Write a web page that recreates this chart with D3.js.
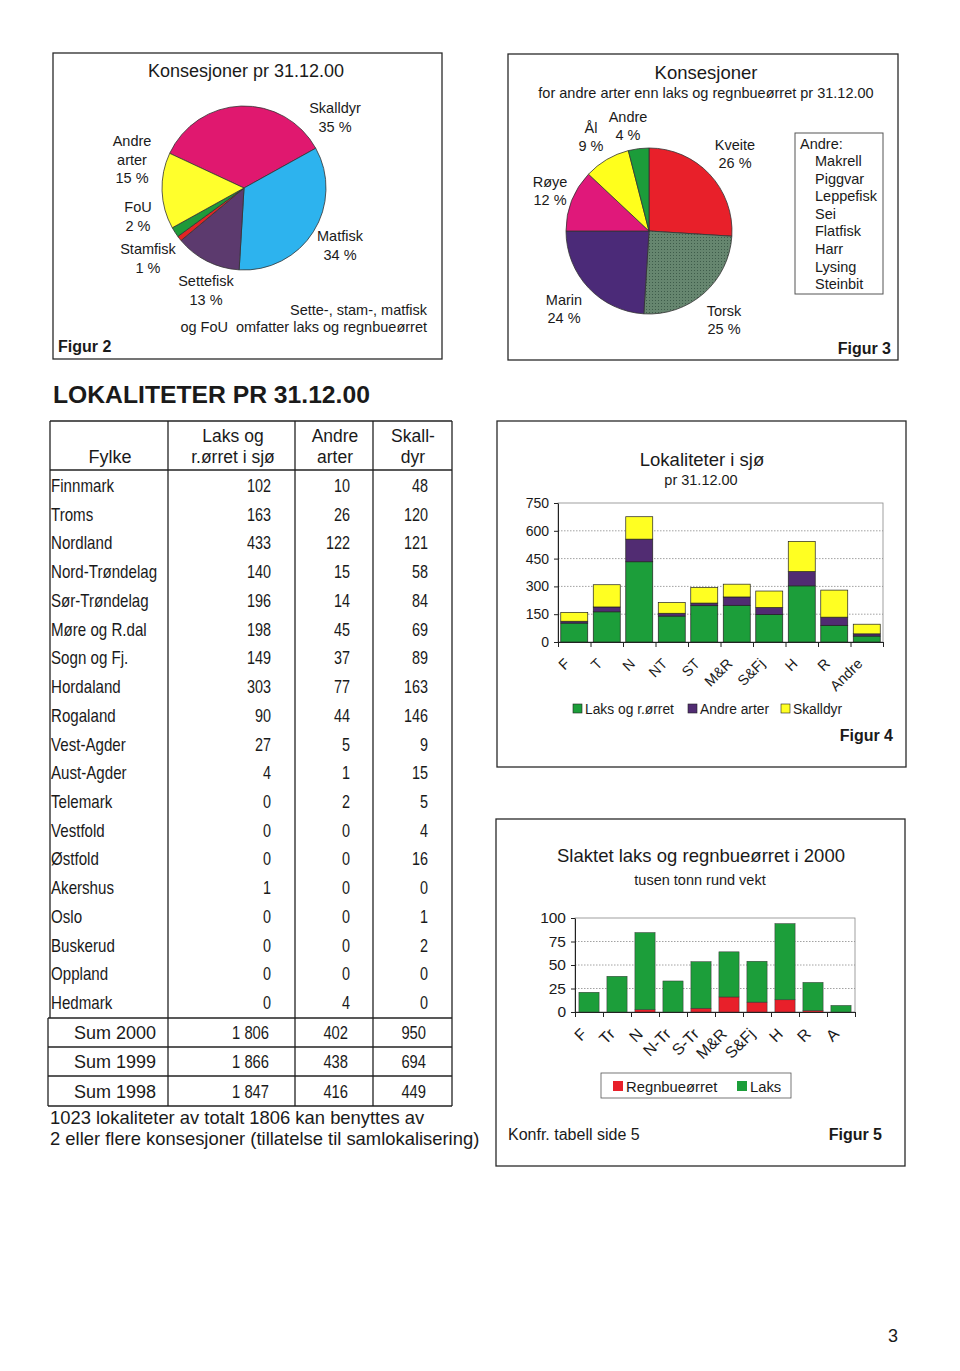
<!DOCTYPE html>
<html><head><meta charset="utf-8">
<script src="https://cdn.jsdelivr.net/npm/d3@7"></script>
<style>
body{margin:0;background:#fff;}
svg text{font-family:"Liberation Sans",Arial,sans-serif;fill:#1a1a1a;white-space:pre;}
</style></head><body>
<svg id="page" width="960" height="1371" xmlns="http://www.w3.org/2000/svg"></svg>
<script>
// ---------------- DATA ----------------
const fig2Labels = ["Skalldyr","Matfisk","Settefisk","Stamfisk","FoU","Andre arter"];
const fig2Values = [35,34,13,1,2,15];
const fig3Labels = ["Kveite","Torsk","Marin","Røye","Ål","Andre"];
const fig3Values = [26,25,24,12,9,4];
const fig3Other = ["Makrell","Piggvar","Leppefisk","Sei","Flatfisk","Harr","Lysing","Steinbit"];

const fylker = ["Finnmark","Troms","Nordland","Nord-Trøndelag","Sør-Trøndelag","Møre og R.dal","Sogn og Fj.","Hordaland","Rogaland","Vest-Agder","Aust-Agder","Telemark","Vestfold","Østfold","Akershus","Oslo","Buskerud","Oppland","Hedmark"];
const laksSjo   = [102,163,433,140,196,198,149,303,90,27,4,0,0,0,1,0,0,0,0];
const andreArter= [10,26,122,15,14,45,37,77,44,5,1,2,0,0,0,0,0,0,4];
const skalldyr  = [48,120,121,58,84,69,89,163,146,9,15,5,4,16,0,1,2,0,0];
const sumLabels = ["Sum 2000","Sum 1999","Sum 1998"];
const sumLaks   = ["1 806","1 866","1 847"];
const sumAndre  = ["402","438","416"];
const sumSkall  = ["950","694","449"];

const fig4Cats  = ["F","T","N","NT","ST","M&R","S&Fj","H","R","Andre"];
const fig4Laks  = [102,163,433,140,196,198,149,303,90,32];
const fig4Andre = [10,26,122,15,14,45,37,77,44,12];
const fig4Skall = [48,120,121,58,84,69,89,163,146,52];
const fig4Ticks = [0,150,300,450,600,750];

const fig5Cats  = ["F","Tr","N","N-Tr","S-Tr","M&R","S&Fj","H","R","A"];
const fig5Regn  = [0,0,2.5,0,4,16,10.5,13,1.5,0];
const fig5Laks  = [21,38,82,33,49.5,48,43.5,81,30,7];
const fig5Ticks = [0,25,50,75,100];

// ---------------- STYLE / LAYOUT ----------------
const svg = d3.select("#page");
const F = "Liberation Sans, Arial, sans-serif";
function txt(g,x,y,s,o={}){
  const t=g.append("text").text(s)
    .attr("font-size",o.size||14).attr("text-anchor",o.anchor||"start");
  if(o.sx){ t.attr("transform",`translate(${x},${y}) scale(${o.sx},1)`); }
  else { t.attr("x",x).attr("y",y); }
  if(o.bold) t.attr("font-weight","bold");
  return t;
}
function box(x,y,w,h,sw){
  svg.append("rect").attr("x",x).attr("y",y).attr("width",w).attr("height",h)
    .attr("fill","none").attr("stroke","#2a2a2a").attr("stroke-width",sw||1.3);
}
const defs = svg.append("defs");
const pat = defs.append("pattern").attr("id","torsk").attr("width",3).attr("height",3).attr("patternUnits","userSpaceOnUse");
pat.append("rect").attr("width",3).attr("height",3).attr("fill","#66866f");
pat.append("rect").attr("width",1).attr("height",1).attr("fill","#3e5c4a");

// ---------------- FIGUR 2 ----------------
box(53,53,389,306);
txt(svg,246,77,"Konsesjoner pr 31.12.00",{size:18,anchor:"middle"});
const c2 = ["#e0186f","#2db3ee","#5c3a6e","#e32424","#1f9a3a","#ffff2c"];
const pie2 = d3.pie().sort(null).startAngle(-65*Math.PI/180).endAngle(295*Math.PI/180)(fig2Values);
const arc2 = d3.arc().innerRadius(0).outerRadius(82);
const g2 = svg.append("g").attr("transform","translate(244,188)");
g2.selectAll("path").data(pie2).join("path").attr("d",arc2)
  .attr("fill",(d,i)=>c2[i]).attr("stroke","#333").attr("stroke-width",0.8);
const lab2 = [
  {x:335,lines:["Skalldyr","35 %"],y:113},
  {x:340,lines:["Matfisk","34 %"],y:241},
  {x:206,lines:["Settefisk","13 %"],y:286},
  {x:148,lines:["Stamfisk","1 %"],y:254},
  {x:138,lines:["FoU","2 %"],y:212},
  {x:132,lines:["Andre","arter","15 %"],y:146}
];
lab2.forEach(l=>l.lines.forEach((s,j)=>txt(svg,l.x,l.y+j*18.5,s,{size:14.5,anchor:"middle"})));
txt(svg,427,315,"Sette-, stam-, matfisk",{size:14.5,anchor:"end"});
txt(svg,427,332,"og FoU  omfatter laks og regnbueørret",{size:14.5,anchor:"end"});
txt(svg,58,352,"Figur 2",{size:16,bold:true});

// ---------------- FIGUR 3 ----------------
box(508,54,390,306);
txt(svg,706,79,"Konsesjoner",{size:18.5,anchor:"middle"});
txt(svg,706,98,"for andre arter enn laks og regnbueørret pr 31.12.00",{size:14.5,anchor:"middle"});
const c3 = ["#e8202a","url(#torsk)","#4b2a78","#e0187a","#ffff1c","#1c9c3a"];
const pie3 = d3.pie().sort(null)(fig3Values);
const arc3 = d3.arc().innerRadius(0).outerRadius(83);
const g3 = svg.append("g").attr("transform","translate(649,231)");
g3.selectAll("path").data(pie3).join("path").attr("d",arc3)
  .attr("fill",(d,i)=>c3[i]).attr("stroke","#333").attr("stroke-width",0.8);
const lab3 = [
  {x:735,y:150,lines:["Kveite","26 %"]},
  {x:724,y:316,lines:["Torsk","25 %"]},
  {x:564,y:305,lines:["Marin","24 %"]},
  {x:550,y:187,lines:["Røye","12 %"]},
  {x:591,y:133,lines:["Ål","9 %"]},
  {x:628,y:122,lines:["Andre","4 %"]}
];
lab3.forEach(l=>l.lines.forEach((s,j)=>txt(svg,l.x,l.y+j*18,s,{size:14.5,anchor:"middle"})));
svg.append("rect").attr("x",795).attr("y",133).attr("width",88).attr("height",161)
  .attr("fill","none").attr("stroke","#555").attr("stroke-width",1);
txt(svg,800,149,"Andre:",{size:14.5});
fig3Other.forEach((s,i)=>txt(svg,815,166+i*17.6,s,{size:14.5}));
txt(svg,891,354,"Figur 3",{size:16,bold:true,anchor:"end"});

// ---------------- TABLE ----------------
txt(svg,53,403,"LOKALITETER PR 31.12.00",{size:24.7,bold:true});
const tb = svg.append("g");
const lineC = "#222";
function hl(x1,x2,y,w){tb.append("line").attr("x1",x1).attr("x2",x2).attr("y1",y).attr("y2",y).attr("stroke",lineC).attr("stroke-width",w||1.3);}
function vl(x,y1,y2,w){tb.append("line").attr("x1",x).attr("x2",x).attr("y1",y1).attr("y2",y2).attr("stroke",lineC).attr("stroke-width",w||1.3);}
hl(50,452,421); hl(50,452,470);
vl(50,421,1018); vl(452,421,1106);
[168,295,373].forEach(x=>vl(x,421,1106));
[1018,1047,1076,1106].forEach(y=>hl(48,452,y));
vl(48,1018,1106);
txt(tb,110,463,"Fylke",{size:18,anchor:"middle"});
txt(tb,233,442,"Laks og",{size:17.5,anchor:"middle"});
txt(tb,233,463,"r.ørret i sjø",{size:17.5,anchor:"middle"});
txt(tb,335,442,"Andre",{size:17.5,anchor:"middle"});
txt(tb,335,463,"arter",{size:17.5,anchor:"middle"});
txt(tb,413,442,"Skall-",{size:17.5,anchor:"middle"});
txt(tb,413,463,"dyr",{size:17.5,anchor:"middle"});
const rowY = d3.scaleLinear().domain([0,18]).range([492,1009]);
fylker.forEach((f,i)=>{
  txt(tb,51,rowY(i),f,{size:18,sx:0.84});
  txt(tb,271,rowY(i),laksSjo[i],{size:18,anchor:"end",sx:0.8});
  txt(tb,350,rowY(i),andreArter[i],{size:18,anchor:"end",sx:0.8});
  txt(tb,428,rowY(i),skalldyr[i],{size:18,anchor:"end",sx:0.8});
});
sumLabels.forEach((s,i)=>{
  const y = 1039+i*29.3;
  txt(tb,74,y,s,{size:18});
  txt(tb,269,y,sumLaks[i],{size:18,anchor:"end",sx:0.82});
  txt(tb,348,y,sumAndre[i],{size:18,anchor:"end",sx:0.82});
  txt(tb,426,y,sumSkall[i],{size:18,anchor:"end",sx:0.82});
});
txt(svg,50,1124,"1023 lokaliteter av totalt 1806 kan benyttes av",{size:18.4});
txt(svg,50,1145,"2 eller flere konsesjoner (tillatelse til samlokalisering)",{size:18.4});

// ---------------- FIGUR 4 ----------------
box(497,421,409,346);
txt(svg,702,466,"Lokaliteter i sjø",{size:18.5,anchor:"middle"});
txt(svg,701,485,"pr 31.12.00",{size:14.5,anchor:"middle"});
const x4 = d3.scaleBand().domain(fig4Cats).range([558,883]).paddingInner(0.17).paddingOuter(0.085);
const x4i = d3.scaleLinear().domain([0,10]).range([558,883]);
const y4 = d3.scaleLinear().domain([0,750]).range([642,503]);
const g4 = svg.append("g");
g4.append("g").selectAll("line").data(fig4Ticks.slice(1,-1)).join("line")
  .attr("x1",558).attr("x2",883).attr("y1",d=>y4(d)).attr("y2",d=>y4(d))
  .attr("stroke","#8a8a8a").attr("stroke-dasharray","1.5,1.5").attr("stroke-width",0.8);
g4.append("rect").attr("x",558).attr("y",y4(750)).attr("width",325).attr("height",y4(0)-y4(750))
  .attr("fill","none").attr("stroke","#888").attr("stroke-width",0.8);
const rows4 = fig4Cats.map((c,i)=>({c,laks:fig4Laks[i],andre:fig4Andre[i],skall:fig4Skall[i]}));
const st4 = d3.stack().keys(["laks","andre","skall"])(rows4);
const col4 = {laks:"#1c9e3a",andre:"#512c72",skall:"#ffff22"};
g4.selectAll("g.s").data(st4).join("g").attr("class","s").attr("fill",d=>col4[d.key])
  .selectAll("rect").data(d=>d).join("rect")
  .attr("x",d=>x4(d.data.c)).attr("width",x4.bandwidth())
  .attr("y",d=>y4(d[1])).attr("height",d=>y4(d[0])-y4(d[1]))
  .attr("stroke","#222").attr("stroke-width",0.7);
const ax4y = g4.append("g").attr("transform","translate(558,0)")
  .call(d3.axisLeft(y4).tickValues(fig4Ticks).tickSize(4).tickPadding(5).tickSizeOuter(0));
ax4y.selectAll("text").attr("font-size",14).attr("font-family",F).attr("fill","#1a1a1a");
ax4y.selectAll("line,path").attr("stroke","#222");
const ax4x = g4.append("g").attr("transform","translate(0,642)")
  .call(d3.axisBottom(x4i).tickValues(d3.range(11)).tickFormat("").tickSize(5).tickSizeOuter(0));
ax4x.selectAll("line,path").attr("stroke","#222");
g4.selectAll("text.xl").data(fig4Cats).join("text").attr("class","xl")
  .attr("transform",d=>`translate(${x4(d)+x4.bandwidth()/2-7},661) rotate(-45)`)
  .attr("text-anchor","end").attr("dy","0.35em").attr("font-size",14.5).text(d=>d);
const leg4 = [["Laks og r.ørret","laks",573],["Andre arter","andre",688],["Skalldyr","skall",781]];
leg4.forEach(([s,k,x])=>{
  svg.append("rect").attr("x",x).attr("y",704).attr("width",9).attr("height",9).attr("fill",col4[k]).attr("stroke","#222").attr("stroke-width",0.6);
  txt(svg,x+12,713.5,s,{size:13.8});
});
txt(svg,893,741,"Figur 4",{size:16,bold:true,anchor:"end"});

// ---------------- FIGUR 5 ----------------
box(496,819,409,347);
txt(svg,701,862,"Slaktet laks og regnbueørret i 2000",{size:18.5,anchor:"middle"});
txt(svg,700,885,"tusen tonn rund vekt",{size:14.5,anchor:"middle"});
const x5 = d3.scaleBand().domain(fig5Cats).range([575,855]).paddingInner(0.28).paddingOuter(0.14);
const x5i = d3.scaleLinear().domain([0,10]).range([575,855]);
const y5 = d3.scaleLinear().domain([0,100]).range([1012,918]);
const g5 = svg.append("g");
g5.append("g").selectAll("line").data(fig5Ticks.slice(1,-1)).join("line")
  .attr("x1",575).attr("x2",855).attr("y1",d=>y5(d)).attr("y2",d=>y5(d))
  .attr("stroke","#8a8a8a").attr("stroke-dasharray","1.5,1.5").attr("stroke-width",0.8);
g5.append("rect").attr("x",575).attr("y",y5(100)).attr("width",280).attr("height",y5(0)-y5(100))
  .attr("fill","none").attr("stroke","#888").attr("stroke-width",0.8);
const rows5 = fig5Cats.map((c,i)=>({c,regn:fig5Regn[i],laks:fig5Laks[i]}));
const st5 = d3.stack().keys(["regn","laks"])(rows5);
const col5 = {regn:"#e8202a",laks:"#1c9e3a"};
g5.selectAll("g.s").data(st5).join("g").attr("class","s").attr("fill",d=>col5[d.key])
  .selectAll("rect").data(d=>d).join("rect")
  .attr("x",d=>x5(d.data.c)).attr("width",x5.bandwidth())
  .attr("y",d=>y5(d[1])).attr("height",d=>y5(d[0])-y5(d[1]))
  .attr("stroke","#333").attr("stroke-width",d=>(d[1]-d[0])>0?0.5:0);
const ax5y = g5.append("g").attr("transform","translate(575,0)")
  .call(d3.axisLeft(y5).tickValues(fig5Ticks).tickSize(4).tickPadding(5).tickSizeOuter(0));
ax5y.selectAll("text").attr("font-size",15.5).attr("font-family",F).attr("fill","#1a1a1a");
ax5y.selectAll("line,path").attr("stroke","#222");
const ax5x = g5.append("g").attr("transform","translate(0,1012)")
  .call(d3.axisBottom(x5i).tickValues(d3.range(11)).tickFormat("").tickSize(5).tickSizeOuter(0));
ax5x.selectAll("line,path").attr("stroke","#222");
g5.selectAll("text.xl").data(fig5Cats).join("text").attr("class","xl")
  .attr("transform",d=>`translate(${x5(d)+x5.bandwidth()/2-5},1031) rotate(-45)`)
  .attr("text-anchor","end").attr("dy","0.35em").attr("font-size",16).text(d=>d);
svg.append("rect").attr("x",601).attr("y",1073).attr("width",190).attr("height",25)
  .attr("fill","none").attr("stroke","#555").attr("stroke-width",0.8);
[["Regnbueørret","regn",613],["Laks","laks",737]].forEach(([s,k,x])=>{
  svg.append("rect").attr("x",x).attr("y",1081).attr("width",10).attr("height",10).attr("fill",col5[k]);
  txt(svg,x+13,1091.5,s,{size:14.8});
});
txt(svg,508,1140,"Konfr. tabell side 5",{size:16});
txt(svg,882,1140,"Figur 5",{size:16,bold:true,anchor:"end"});

txt(svg,898,1342,"3",{size:18,anchor:"end"});
</script></body></html>
